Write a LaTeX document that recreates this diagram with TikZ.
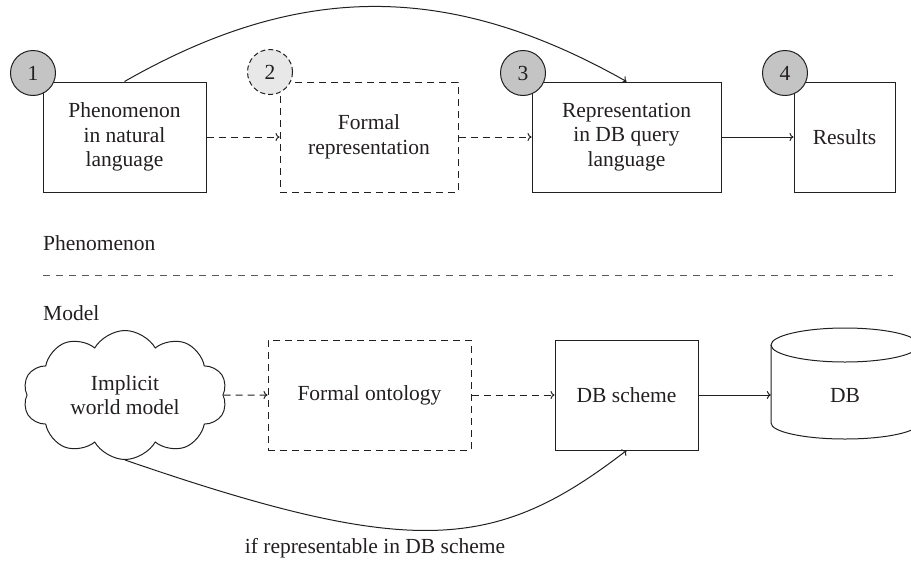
\documentclass[tikz,border=0pt]{standalone}
\usepackage{fontspec}
\setmainfont{Liberation Serif}
\usetikzlibrary{shapes.symbols,arrows.meta}
\definecolor{ink}{HTML}{231F20}
\definecolor{numfill}{HTML}{C4C4C4}
\definecolor{numfilllight}{HTML}{E8E8E8}
\tikzset{
  every node/.style={text=ink,font=\fontsize{21.5}{24.5}\selectfont},
  boxnode/.style={draw=ink,line width=1pt,rectangle,align=center,inner sep=0pt},
  dboxnode/.style={boxnode,dash pattern=on 7pt off 5pt},
  numnode/.style={circle,draw=ink,line width=1pt,fill=numfill,minimum size=45pt,inner sep=0pt},
  arr/.style={draw=ink,line width=1pt,-{To[length=4pt,width=8pt]}},
  darr/.style={arr,dash pattern=on 7pt off 5pt},
  seplinestyle/.style={draw=ink!75,line width=1pt,dash pattern=on 7pt off 6pt},
}
\begin{document}
\begin{tikzpicture}[x=1pt,y=-1pt]
\useasboundingbox (0,0) rectangle (911,563);
\clip (0,0) rectangle (911,563);
% top row boxes
\node[boxnode,minimum width=163pt,minimum height=110pt] (b1) at (124.5,137) {Phenomenon\\in natural\\language};
\node[dboxnode,minimum width=178pt,minimum height=110pt] (b2) at (369,137) {Formal\\representation};
\node[boxnode,minimum width=189pt,minimum height=110pt] (b3) at (626.5,137) {Representation\\in DB query\\language};
\node[boxnode,minimum width=101pt,minimum height=110pt] (b4) at (844.5,137) {Results};
% numbers
\node[numnode] (n1) at (33,73) {1};
\node[numnode,fill=numfilllight,dash pattern=on 5pt off 3pt] (n2) at (270,72) {2};
\node[numnode] (n3) at (523,73) {3};
\node[numnode] (n4) at (785,73) {4};
% top connectors
\draw[darr] (b1.east) -- (b2.west);
\draw[darr] (b2.east) -- (b3.west);
\draw[arr] (b3.east) -- (b4.west);
\draw[arr] (b1.north) .. controls +(175,-100) and +(-177,-100) .. (b3.north);
% separator
\node[anchor=west,inner sep=0pt] (phen) at (43,243) {Phenomenon};
\coordinate (sepL) at (43,275);
\coordinate (sepR) at (893,275);
\draw[seplinestyle] (sepL) -- (sepR);
\node[anchor=west,inner sep=0pt] (model) at (43,313) {Model};
% bottom row
\node[cloud,cloud puffs=10,cloud puff arc=120,cloud ignores aspect,draw=ink,line width=1pt,
      minimum width=204pt,minimum height=129pt,align=center,inner sep=0pt] (cl) at (125,395) {Implicit\\world model};
\node[dboxnode,minimum width=203pt,minimum height=110pt] (onto) at (369.5,395) {Formal ontology};
\node[boxnode,minimum width=143pt,minimum height=110pt] (dbs) at (626.5,395) {DB scheme};
\node[rectangle,minimum width=148pt,minimum height=20pt,inner sep=0pt] (db) at (845,395) {DB};
\draw[ink,line width=1pt] (771,345) -- (771,423) arc[start angle=180,end angle=0,x radius=74,y radius=16] -- (919,345);
\draw[ink,line width=1pt] (845,345) ellipse [x radius=74, y radius=17];
\draw[darr] (cl.east) -- (onto.west);
\draw[darr] (onto.east) -- (dbs.west);
\draw[arr] (dbs.east) -- (db.west);
\draw[arr] (cl.south) .. controls +(290,100) and +(-130,100) .. (dbs.south);
\node (lbl) at (375,548) {if representable in DB scheme};
\end{tikzpicture}
\end{document}
